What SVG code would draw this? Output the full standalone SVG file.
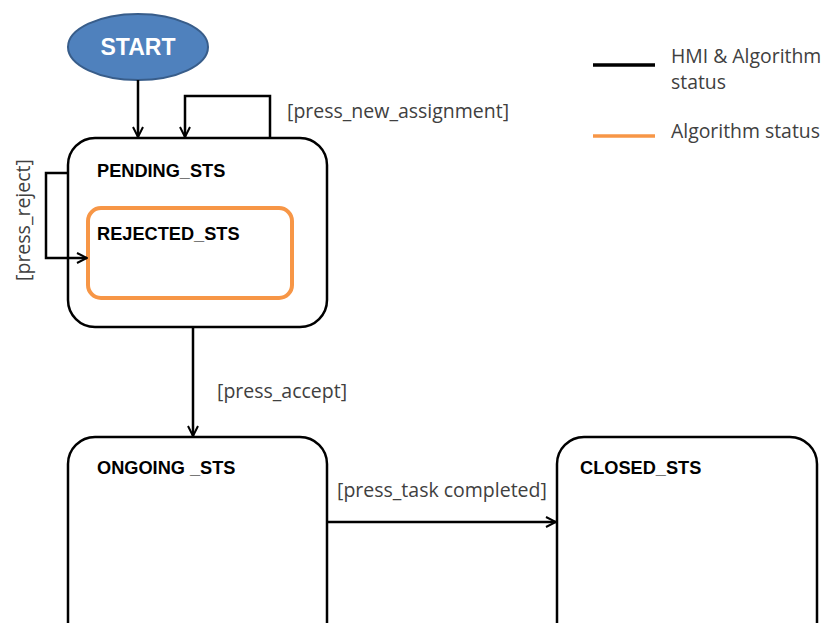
<svg xmlns="http://www.w3.org/2000/svg" width="825" height="623" viewBox="0 0 825 623">
<style>
.state{fill:#fff;stroke:#000;stroke-width:2.5}
.title{font-family:"Liberation Sans",Arial,sans-serif;font-weight:bold;font-size:18.2px;fill:#000}
.lbl{font-family:"Open Sans","Liberation Sans",sans-serif;font-size:19.5px;fill:#404040}
.leg{font-family:"Open Sans","Liberation Sans",sans-serif;font-size:19.4px;fill:#404040}
.conn{fill:none;stroke:#000;stroke-width:2.5}
</style>
<defs>
<marker id="arr" viewBox="0 0 12 12" refX="11" refY="6" markerWidth="12" markerHeight="12" markerUnits="userSpaceOnUse" orient="auto">
<path d="M1,1 L11,6 L1,11" fill="none" stroke="#000" stroke-width="2"/>
</marker>
</defs>
<rect width="825" height="623" fill="#fff"/>
<g id="start">
<ellipse cx="138" cy="47" rx="70" ry="33" fill="#4f81bd" stroke="#385d8a" stroke-width="2"/>
<text x="138" y="55" text-anchor="middle" font-family="Liberation Sans,Arial,sans-serif" font-weight="bold" font-size="23" fill="#fff">START</text>
</g>
<g id="pending">
<rect class="state" x="68" y="138" width="259" height="189" rx="27"/>
<text class="title" x="97" y="177">PENDING_STS</text>
</g>
<g id="rejected">
<rect x="88" y="208" width="204" height="90" rx="13" fill="#fff" stroke="#f79646" stroke-width="4"/>
<text class="title" x="97" y="240">REJECTED_STS</text>
</g>
<g id="ongoing">
<rect class="state" x="68" y="437" width="259" height="220" rx="27"/>
<text class="title" x="97" y="474">ONGOING _STS</text>
</g>
<g id="closed">
<rect class="state" x="557" y="437" width="260" height="220" rx="27"/>
<text class="title" x="580" y="474">CLOSED_STS</text>
</g>
<g id="connectors">
<path class="conn" d="M138,80 V137" marker-end="url(#arr)"/>
<path class="conn" d="M270,138 V96 H185 V137" marker-end="url(#arr)"/>
<path class="conn" d="M68,173 H46 V258 H87" marker-end="url(#arr)"/>
<path class="conn" d="M193,327 V436" marker-end="url(#arr)"/>
<path class="conn" d="M327,522 H556" marker-end="url(#arr)"/>
<text class="lbl" x="287" y="118">[press_new_assignment]</text>
<text class="lbl" transform="translate(30,220) rotate(-90)" text-anchor="middle">[press_reject]</text>
<text class="lbl" x="217" y="398">[press_accept]</text>
<text class="lbl" x="337" y="497">[press_task completed]</text>
</g>
<g id="legend">
<line x1="593" y1="65" x2="655" y2="65" stroke="#000" stroke-width="3.5"/>
<line x1="593" y1="136" x2="655" y2="136" stroke="#f79646" stroke-width="3.5"/>
<text class="leg" x="671" y="63">HMI &amp; Algorithm</text>
<text class="leg" x="671" y="89">status</text>
<text class="leg" x="671" y="138">Algorithm status</text>
</g>
</svg>
